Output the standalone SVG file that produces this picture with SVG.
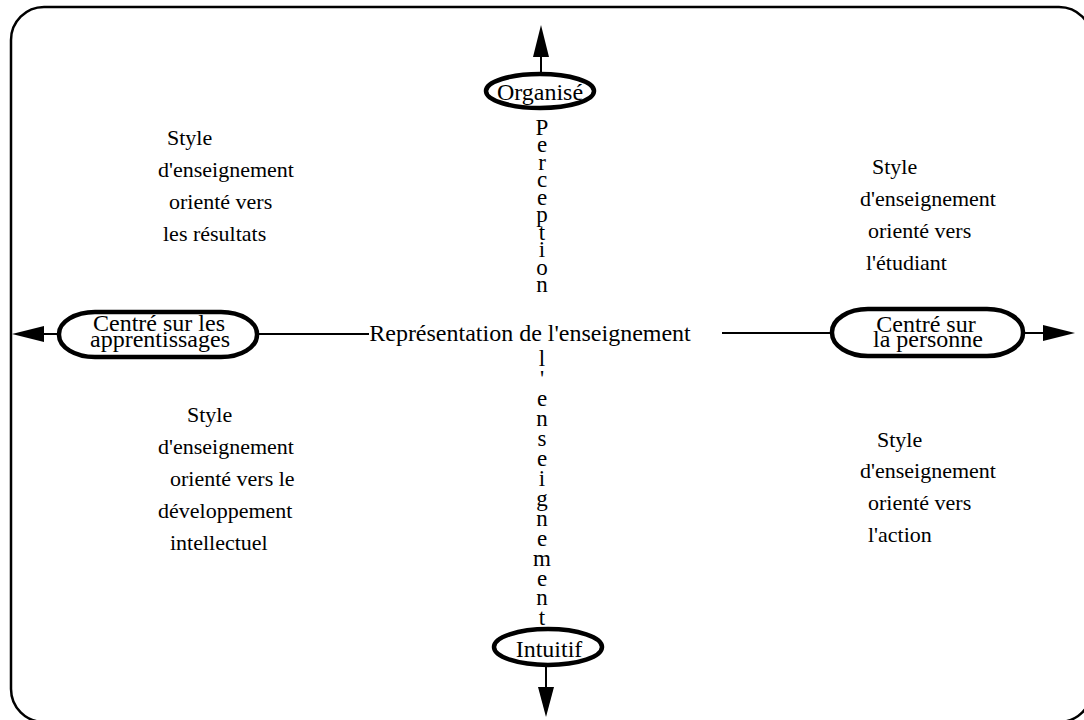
<svg xmlns="http://www.w3.org/2000/svg" width="1084" height="720" viewBox="0 0 1084 720" font-family="'Liberation Serif', 'Times New Roman', serif">
  <defs>
    <style>
      .frame { fill: #fff; stroke: #000; stroke-width: 2.5; }
      .node { fill: #fff; stroke: #000; stroke-width: 4.5; }
      .line { fill: none; stroke: #000; stroke-width: 2; }
      .head { fill: #000; stroke: none; }
      .lbl { font-family: 'Liberation Serif', 'Times New Roman', serif; font-size: 24px; text-anchor: middle; fill: #000; }
      .q { font-family: 'Liberation Serif', 'Times New Roman', serif; font-size: 22px; fill: #000; }
      .v { font-family: 'Liberation Serif', 'Times New Roman', serif; font-size: 23px; text-anchor: middle; fill: #000; }
    </style>
  </defs>

  <rect width="1084" height="720" fill="#fff"/>
  <rect class="frame" x="11" y="7" width="1081" height="715" rx="33" ry="33"/>

  <!-- axes and arrowheads -->
  <g id="connectors">
    <line class="line" x1="541" y1="73" x2="541" y2="55"/>
    <polygon class="head" points="541,25 533,57 549,57"/>
    <line class="line" x1="546" y1="666" x2="546" y2="689"/>
    <polygon class="head" points="546,717 538,687 554,687"/>
    <line class="line" x1="257" y1="334" x2="369" y2="334"/>
    <line class="line" x1="58" y1="334" x2="42" y2="334"/>
    <polygon class="head" points="12,334 44,326 44,342"/>
    <line class="line" x1="722" y1="333" x2="832" y2="333"/>
    <line class="line" x1="1023" y1="333" x2="1045" y2="333"/>
    <polygon class="head" points="1075,333 1043,325 1043,341"/>
  </g>

  <g id="node-organise">
    <ellipse class="node" cx="540" cy="91" rx="54" ry="17"/>
    <text class="lbl" x="540" y="100">Organisé</text>
  </g>

  <g id="node-intuitif">
    <ellipse class="node" cx="548" cy="647" rx="54" ry="18"/>
    <text class="lbl" x="549" y="657">Intuitif</text>
  </g>

  <g id="node-apprentissages">
    <rect class="node" x="59" y="312" width="198" height="45" rx="36" ry="22"/>
    <text class="lbl" x="159" y="331">Centré sur les</text>
    <text class="lbl" x="160" y="347">apprentissages</text>
  </g>

  <g id="node-personne">
    <rect class="node" x="832" y="309" width="191" height="47" rx="36" ry="23"/>
    <text class="lbl" x="926" y="332">Centré sur</text>
    <text class="lbl" x="928" y="347">la personne</text>
  </g>

  <g id="axis-label">
    <text class="lbl" x="530" y="341">Représentation de l'enseignement</text>
  </g>

  <!-- vertical axis label, one letter per line -->
  <g id="vertical-label">
    <text class="v" x="542" y="135">P</text>
    <text class="v" x="542" y="152">e</text>
    <text class="v" x="542" y="170">r</text>
    <text class="v" x="542" y="187">c</text>
    <text class="v" x="542" y="205">e</text>
    <text class="v" x="542" y="222">p</text>
    <text class="v" x="542" y="240">t</text>
    <text class="v" x="542" y="257">i</text>
    <text class="v" x="542" y="275">o</text>
    <text class="v" x="542" y="292">n</text>
    <text class="v" x="542" y="366">l</text>
    <text class="v" x="542" y="386">'</text>
    <text class="v" x="542" y="406">e</text>
    <text class="v" x="542" y="426">n</text>
    <text class="v" x="542" y="446">s</text>
    <text class="v" x="542" y="466">e</text>
    <text class="v" x="542" y="486">i</text>
    <text class="v" x="542" y="506">g</text>
    <text class="v" x="542" y="526">n</text>
    <text class="v" x="542" y="546">e</text>
    <text class="v" x="542" y="566">m</text>
    <text class="v" x="542" y="586">e</text>
    <text class="v" x="542" y="605">n</text>
    <text class="v" x="542" y="625">t</text>
  </g>

  <g id="quadrant-results">
    <text class="q" x="167" y="145">Style</text>
    <text class="q" x="158" y="177">d'enseignement</text>
    <text class="q" x="169" y="209">orienté vers</text>
    <text class="q" x="163" y="241">les résultats</text>
  </g>

  <g id="quadrant-student">
    <text class="q" x="872" y="174">Style</text>
    <text class="q" x="860" y="206">d'enseignement</text>
    <text class="q" x="868" y="238">orienté vers</text>
    <text class="q" x="866" y="270">l'étudiant</text>
  </g>

  <g id="quadrant-development">
    <text class="q" x="187" y="422">Style</text>
    <text class="q" x="158" y="454">d'enseignement</text>
    <text class="q" x="170" y="486">orienté vers le</text>
    <text class="q" x="158" y="518">développement</text>
    <text class="q" x="170" y="550">intellectuel</text>
  </g>

  <g id="quadrant-action">
    <text class="q" x="877" y="447">Style</text>
    <text class="q" x="860" y="478">d'enseignement</text>
    <text class="q" x="868" y="510">orienté vers</text>
    <text class="q" x="868" y="542">l'action</text>
  </g>
</svg>
